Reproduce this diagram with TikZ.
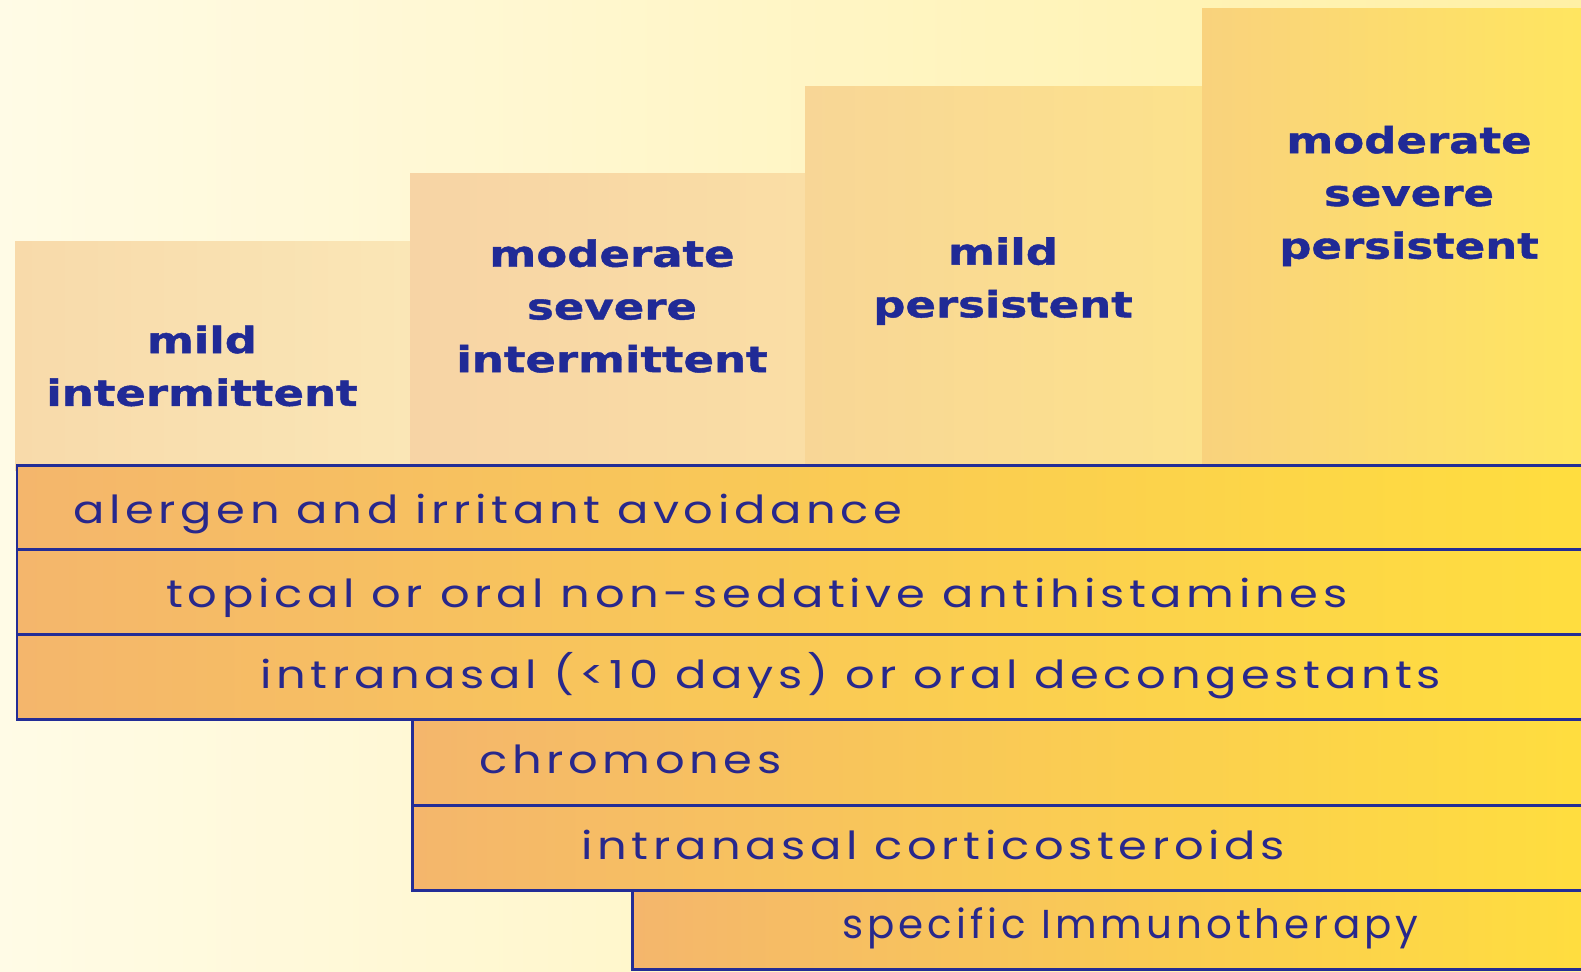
\documentclass[tikz,border=0pt]{standalone}
\usepackage{fontspec}
\setmainfont{DejaVu Sans}
\newfontfamily\headfont[FakeStretch=1.25,FakeBold=1.2]{DejaVu Sans}
\newfontfamily\bandfont[FakeStretch=1.2,LetterSpace=12]{Poppins}
\newfontfamily\lastfont[LetterSpace=10]{Poppins}
\definecolor{bgl}{RGB}{255,251,230}
\definecolor{bgr}{RGB}{255,240,165}
\definecolor{hal}{RGB}{248,218,170}
\definecolor{har}{RGB}{250,230,182}
\definecolor{hbl}{RGB}{247,212,165}
\definecolor{hbr}{RGB}{250,222,165}
\definecolor{hcl}{RGB}{248,214,150}
\definecolor{hcr}{RGB}{252,226,140}
\definecolor{hdl}{RGB}{249,210,125}
\definecolor{hdr}{RGB}{255,230,95}
\definecolor{bandl}{RGB}{244,182,108}
\definecolor{bandr}{RGB}{255,222,62}
\definecolor{lineblue}{RGB}{35,45,150}
\definecolor{txtblue}{RGB}{40,40,140}
\definecolor{headblue}{RGB}{32,42,150}
\begin{document}
\begin{tikzpicture}[x=0.02cm,y=-0.02cm]
            \def\u{0.02cm}
            \tikzset{hd/.style={anchor=north west,inner sep=0,outer sep=0},
                bd/.style={anchor=north west,inner sep=0,outer sep=0,draw=lineblue,line width=1.7pt,left color=bandl,right color=bandr},
                hx/.style={align=center,text=headblue,font=\headfont\bfseries\fontsize{20.5}{30}\selectfont},
                tx/.style={anchor=base west,inner sep=0,text=txtblue,font=\bandfont\fontsize{22}{26}\selectfont}}
            \useasboundingbox(0,0)rectangle(1581,971);
            \clip(0,0)rectangle(1581,971);
            \fill[left color=bgl,right color=bgr](0,0)rectangle(1581,971);
            % stufen oben
            \foreach \n/\x/\y/\w/\lc/\rc in {
                1/15/241/395/hal/har,
                2/410/173/395/hbl/hbr,
                3/805/86/397/hcl/hcr,
                4/1202/8/390/hdl/hdr}
            \path(\x,\y)node[hd,minimum width=\w*\u,minimum height={(470-\y)*\u},left color=\lc,right color=\rc](H\n){};
            \path(202,366)node[hx](T1){mild\\intermittent};
            \path(612,306)node[hx](T2){moderate\\severe\\intermittent};
            \path(1003,281)node[hx](T3){mild\\persistent};
            \path(1409,196)node[hx](T4){moderate\\severe\\persistent};
            % balken
            \foreach \n/\x/\y/\h in {
                1/17/465/84,
                2/17/549/85,
                3/17/634/85,
                4/412/719/86,
                5/412/805/85,
                6/632/890/79}
            \path(\x,\y)node[bd,minimum width={(1600-\x)*\u},minimum height=\h*\u](B\n){};
            \path(B1.north west)++(56,58)node[tx](t1){alergen and irritant avoidance};
            \path(B2.north west)++(149,58)node[tx](t2){topical or oral non-sedative antihistamines};
            \path(B3.north west)++(243,54)node[tx](t3){intranasal (<10 days) or oral decongestants};
            \path(B4.north west)++(67,54)node[tx](t4){chromones};
            \path(B5.north west)++(169,54)node[tx](t5){intranasal corticosteroids};
            \path(B6.north west)++(210,48)node[tx,font=\lastfont\fontsize{23}{26}\selectfont](t6){specific Immunotherapy};
        \end{tikzpicture}
\end{document}
